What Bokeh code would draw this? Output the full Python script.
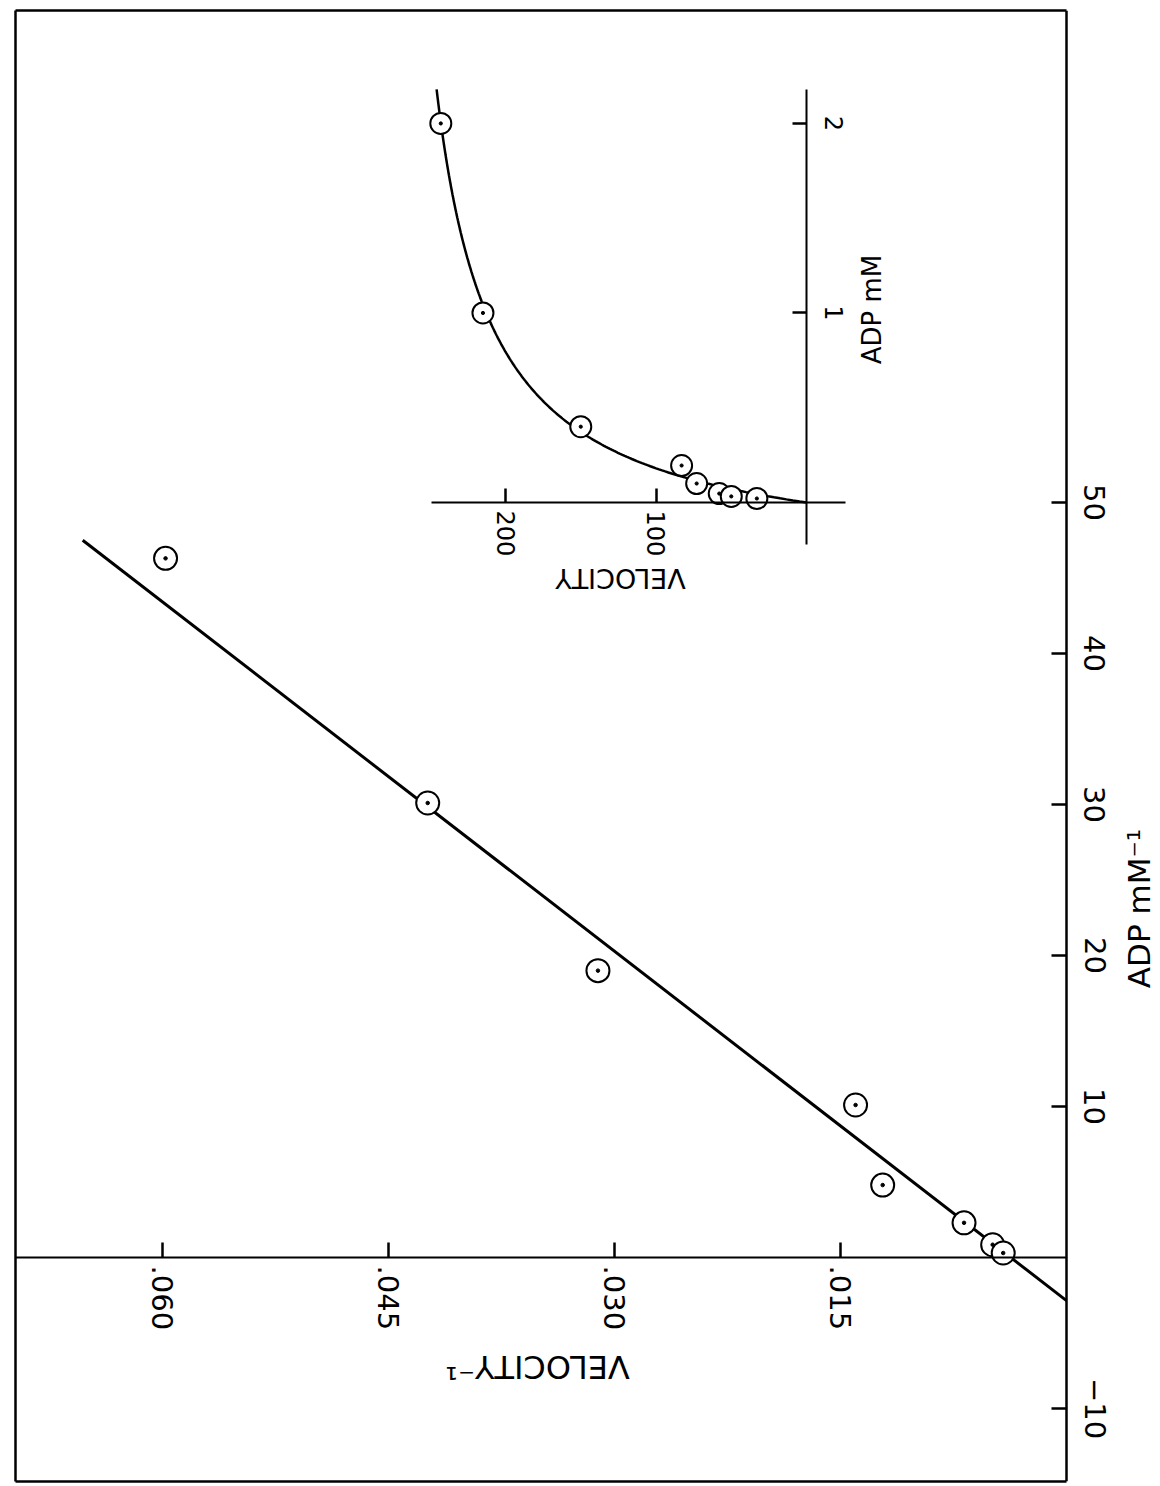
import math
import numpy as np
from bokeh.plotting import figure
from bokeh.models import Range1d, LinearAxis, FixedTicker, Label
from bokeh.embed import file_html
from bokeh.resources import INLINE

# Double-reciprocal (Lineweaver-Burk) data: 1/[ADP] (mM^-1) and 1/velocity
inv_adp = [46.3, 30.1, 19.0, 10.1, 4.8, 2.3, 0.85, 0.3]
inv_vel = [0.0598, 0.0424, 0.0311, 0.0140, 0.0122, 0.0068, 0.0049, 0.0042]

# Fitted straight line (end points)
fit_inv_adp = [-2.85, 47.5]
fit_inv_vel = [0.0, 0.0653]

# Direct plot (inset): ADP (mM) and velocity
adp_mm = [2.0, 1.0, 0.4, 0.195, 0.10, 0.047, 0.032, 0.021]
velocity = [243, 215, 150, 83, 73, 58, 50, 33]

# Michaelis-Menten parameters of the inset curve
VMAX = 283.0
KM = 0.33
S_MAX = 2.18

# Tick values and labels
vel_ticks = [0.015, 0.030, 0.045, 0.060]
vel_tick_labels = [".015", ".030", ".045", ".060"]
adp_ticks = [-10, 10, 20, 30, 40, 50]
adp_tick_labels = ["\u221210", "10", "20", "30", "40", "50"]
inset_vel_ticks = [100, 200]
inset_vel_tick_labels = ["100", "200"]
inset_adp_ticks = [1, 2]
inset_adp_tick_labels = ["1", "2"]

FONT = "DejaVu Sans"
INV_VEL_MAX = 0.06976  # left edge of the box

p = figure(
    width=1160, height=1486,
    x_range=Range1d(INV_VEL_MAX, -0.00624),
    y_range=Range1d(-14.83, 82.58),
    output_backend="svg", toolbar_location=None,
    x_axis_location=None, y_axis_location=None,
    min_border_left=15, min_border_top=10, min_border_bottom=5, min_border_right=0,
)
for g in p.grid:
    g.visible = False
p.outline_line_color = None
p.background_fill_color = "white"
p.border_fill_color = "white"

# inset coordinate system sharing the same frame
p.extra_x_ranges = {"vin": Range1d(525.6, -235.2)}
p.extra_y_ranges = {"sin": Range1d(-5.166, 2.596)}


def style(ax, tick_len, label_size, label_standoff):
    ax.major_tick_in = tick_len
    ax.major_tick_out = 0
    ax.minor_tick_in = 0
    ax.minor_tick_out = 0
    ax.axis_line_color = "black"
    ax.axis_line_width = 2
    ax.major_tick_line_color = "black"
    ax.major_tick_line_width = 2.5
    ax.major_label_orientation = "vertical"
    ax.major_label_text_font = FONT
    ax.major_label_text_font_size = label_size
    ax.major_label_text_color = "black"
    ax.major_label_standoff = label_standoff


def edge(ax):
    ax.major_tick_in = 0
    ax.major_tick_out = 0
    ax.minor_tick_in = 0
    ax.minor_tick_out = 0
    ax.major_label_standoff = 0
    ax.axis_label_standoff = 0
    ax.axis_line_color = "black"
    ax.axis_line_width = 2.5


# box edges (left, top, bottom); the right edge is the 1/[ADP] axis
left_edge = LinearAxis(ticker=FixedTicker(ticks=[]))
edge(left_edge)
p.add_layout(left_edge, "left")
top_edge = LinearAxis(ticker=FixedTicker(ticks=[]), bounds=(0.0, INV_VEL_MAX))
edge(top_edge)
p.add_layout(top_edge, "above")
bottom_edge = LinearAxis(ticker=FixedTicker(ticks=[]), bounds=(0.0, INV_VEL_MAX))
edge(bottom_edge)
p.add_layout(bottom_edge, "below")

# main 1/velocity axis, drawn along 1/[ADP] = 0
ax_v = LinearAxis(
    ticker=FixedTicker(ticks=vel_ticks),
    major_label_overrides=dict(zip(vel_ticks, vel_tick_labels)),
    fixed_location=0,
    bounds=(0.0, INV_VEL_MAX),
)
style(ax_v, 15, "29px", 8)
p.add_layout(ax_v, "below")

# main 1/[ADP] axis, drawn along 1/velocity = 0
ax_a = LinearAxis(
    ticker=FixedTicker(ticks=adp_ticks),
    major_label_overrides=dict(zip(adp_ticks, adp_tick_labels)),
    fixed_location=0,
)
style(ax_a, 15, "29px", 18)
ax_a.axis_line_width = 2.5
p.add_layout(ax_a, "right")

# inset axes
ax_iv = LinearAxis(
    x_range_name="vin", y_range_name="sin",
    ticker=FixedTicker(ticks=inset_vel_ticks),
    major_label_overrides=dict(zip(inset_vel_ticks, inset_vel_tick_labels)),
    fixed_location=0,
    bounds=(-26, 249),
)
style(ax_iv, 14, "24px", 8)
p.add_layout(ax_iv, "below")

ax_is = LinearAxis(
    x_range_name="vin", y_range_name="sin",
    ticker=FixedTicker(ticks=inset_adp_ticks),
    major_label_overrides=dict(zip(inset_adp_ticks, inset_adp_tick_labels)),
    fixed_location=0,
    bounds=(-0.22, S_MAX),
)
style(ax_is, 14, "24px", 18)
p.add_layout(ax_is, "right")

# axis titles
title_style = dict(text_font=FONT, text_color="black", text_align="center",
                   text_baseline="middle")
p.add_layout(Label(x=0.03511, y=-7.22, text="VELOCITY\u207b\u00b9", angle=math.pi,
                   text_font_size="32px", **title_style))
p.add_layout(Label(x=-0.00478, y=23.44, text="ADP  mM\u207b\u00b9", angle=math.pi / 2,
                   text_font_size="31px", **title_style))
p.add_layout(Label(x=123.6, y=-0.40, x_range_name="vin", y_range_name="sin",
                   text="VELOCITY", angle=math.pi, text_font_size="27px", **title_style))
p.add_layout(Label(x=-43.2, y=1.04, x_range_name="vin", y_range_name="sin",
                   text="ADP  mM", angle=math.pi / 2, text_font_size="26px", **title_style))

# main plot: fitted line and points
p.line(fit_inv_vel, fit_inv_adp, line_color="black", line_width=3)
p.scatter(inv_vel, inv_adp, marker="circle", size=23, fill_color="white",
          line_color="black", line_width=2)
p.scatter(inv_vel, inv_adp, marker="circle", size=3.5, fill_color="black", line_color="black")

# inset: hyperbola and points
s_curve = np.linspace(0.0, S_MAX, 400)
v_curve = VMAX * s_curve / (KM + s_curve)
p.line(v_curve, s_curve, x_range_name="vin", y_range_name="sin",
       line_color="black", line_width=2.5)
p.scatter(velocity, adp_mm, x_range_name="vin", y_range_name="sin",
          marker="circle", size=21, fill_color="white", line_color="black", line_width=2)
p.scatter(velocity, adp_mm, x_range_name="vin", y_range_name="sin",
          marker="circle", size=3.2, fill_color="black", line_color="black")

open("out.html", "w").write(file_html(p, INLINE))
